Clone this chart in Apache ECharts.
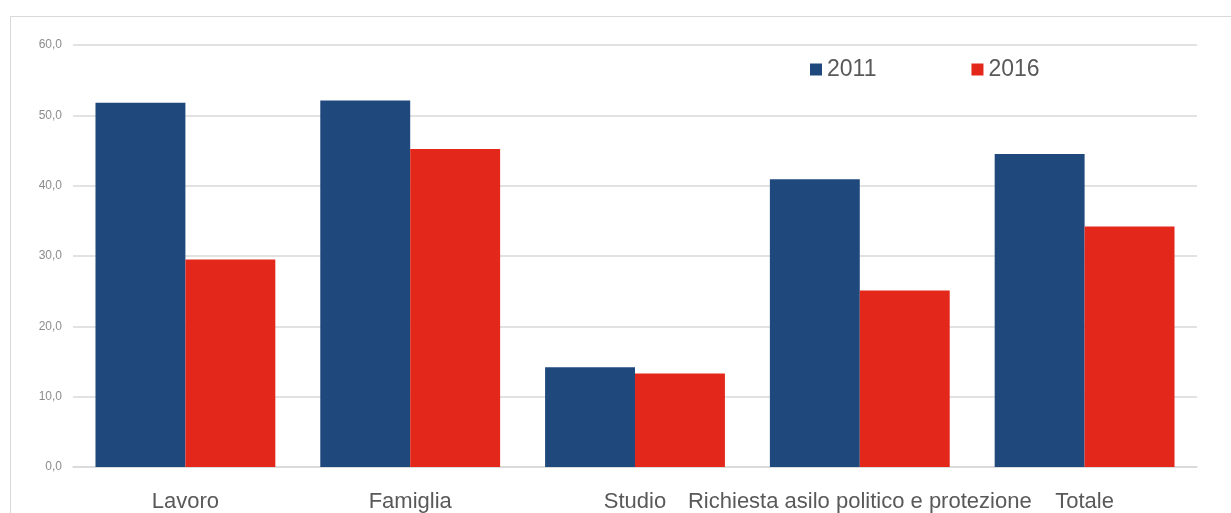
<!DOCTYPE html>
<html><head><meta charset="utf-8">
<script src="https://cdn.jsdelivr.net/npm/echarts@6/dist/echarts.min.js"></script>
<style>html,body{margin:0;padding:0;background:#fff}#c{width:1231px;height:513px}</style>
</head><body><div id="c"></div>
<script>
const categories = ['Lavoro', 'Famiglia', 'Studio', 'Richiesta asilo politico e protezione', 'Totale'];
const values2011 = [51.8, 52.1, 14.2, 40.9, 44.5];
const values2016 = [29.5, 45.2, 13.3, 25.1, 34.2];
const seriesNames = ['2011', '2016'];
const FONT = "'Liberation Sans Narrow', 'Liberation Sans', Arial, sans-serif";
const chart = echarts.init(document.getElementById('c'));
chart.setOption({
  animation: false,
  graphic: [{type:'rect', shape:{x:10.5, y:16.5, width:1300, height:600}, style:{fill:'none', stroke:'#d9d9d9', lineWidth:1}, silent:true, z:-1}],
  legend: {
    data: seriesNames, top: 53, left: 805, itemWidth: 12, itemHeight: 12, itemGap: 95,
    icon: 'rect',
    textStyle: {fontFamily: FONT, fontSize: 23, color: '#595959'}
  },
  grid: {left: 73, right: 34, top: 45, bottom: 45, containLabel: false},
  xAxis: {
    type: 'category', data: categories,
    axisLine: {lineStyle: {color: '#d9d9d9', width: 1.5}},
    axisTick: {show: false},
    axisLabel: {fontFamily: FONT, fontSize: 22, color: '#595959', margin: 24, interval: 0}
  },
  yAxis: {
    type: 'value', min: 0, max: 60, interval: 10,
    axisLine: {show: false}, axisTick: {show: false},
    splitLine: {lineStyle: {color: '#d9d9d9', width: 1.5}},
    axisLabel: {fontFamily: FONT, fontSize: 12, color: '#8c8c8c', margin: 11,
      formatter: v => v.toFixed(1).replace('.', ',')}
  },
  series: [
    {name: seriesNames[0], type: 'bar', data: values2011, barGap: '0%', barCategoryGap: '20%', itemStyle: {color: '#1f497d'}},
    {name: seriesNames[1], type: 'bar', data: values2016, barGap: '0%', barCategoryGap: '20%', itemStyle: {color: '#e3271b'}}
  ]
});
</script></body></html>
